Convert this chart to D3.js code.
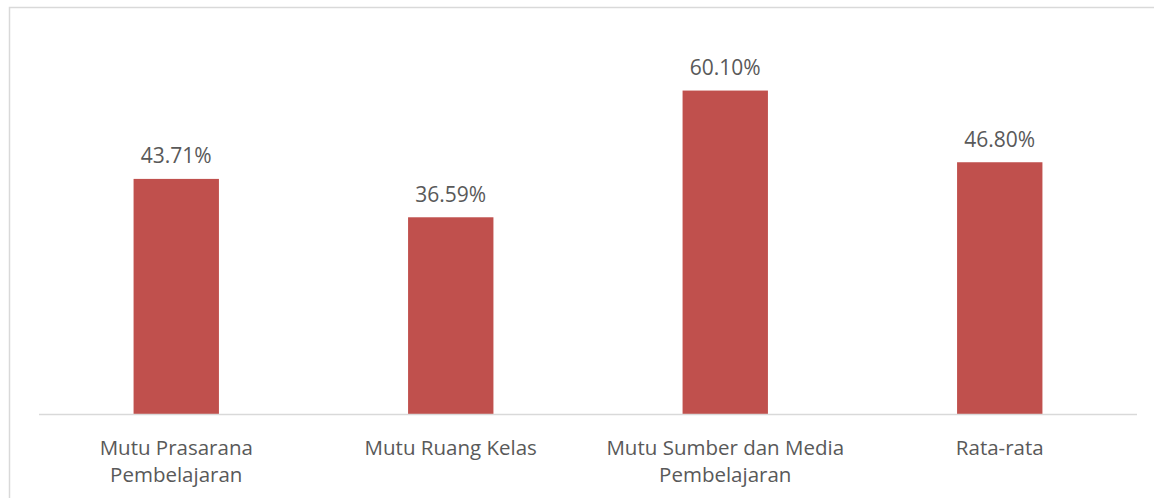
<!DOCTYPE html>
<html>
<head>
<meta charset="utf-8">
<script src="https://cdn.jsdelivr.net/npm/d3@7"></script>
<style>
  body { margin: 0; background: #fff; }
  svg { display: block; }
  text { font-family: "Open Sans", "Noto Sans", sans-serif; fill: #595959; }
</style>
</head>
<body>
<div id="chart"></div>
<script>
// data
const categories = [["Mutu Prasarana", "Pembelajaran"], ["Mutu Ruang Kelas"], ["Mutu Sumber dan Media", "Pembelajaran"], ["Rata-rata"]];
const values = [43.71, 36.59, 60.10, 46.80];

const W = 1154, H = 498;
const svg = d3.select("#chart").append("svg")
    .attr("width", W)
    .attr("height", H);

// outer frame (cut off at right and bottom)
svg.append("rect")
    .attr("x", 9.5).attr("y", 7.5)
    .attr("width", W + 20).attr("height", H + 20)
    .attr("fill", "none")
    .attr("stroke", "#d9d9d9")
    .attr("stroke-width", 1.5);

const baseY = 414.5;
const x = d3.scaleBand()
    .domain(d3.range(values.length))
    .range([39, 1137])
    .paddingInner(0.689)
    .paddingOuter(0.3445);

const y = d3.scaleLinear()
    .domain([0, 70])
    .range([baseY, baseY - 70 * 5.39]);

// bars
svg.append("g").selectAll("rect")
    .data(values)
    .enter().append("rect")
    .attr("x", (d, i) => x(i))
    .attr("y", d => y(d))
    .attr("width", x.bandwidth())
    .attr("height", d => baseY - y(d))
    .attr("fill", "#c0504d");

// baseline
svg.append("line")
    .attr("x1", 39).attr("x2", 1137)
    .attr("y1", baseY).attr("y2", baseY)
    .attr("stroke", "#d9d9d9")
    .attr("stroke-width", 1.5);

// value labels
svg.append("g").selectAll("text")
    .data(values)
    .enter().append("text")
    .attr("x", (d, i) => x(i) + x.bandwidth() / 2)
    .attr("y", d => y(d) - 15.5)
    .attr("text-anchor", "middle")
    .style("font-size", "21px")
    .text(d => d.toFixed(2) + "%");

// category labels
const cat = svg.append("g").selectAll("text")
    .data(categories)
    .enter().append("text")
    .attr("x", (d, i) => x(i) + x.bandwidth() / 2)
    .attr("y", 455)
    .attr("text-anchor", "middle")
    .style("font-size", "20.5px");

cat.selectAll("tspan")
    .data(d => d)
    .enter().append("tspan")
    .attr("x", function() { return this.parentNode.getAttribute("x"); })
    .attr("dy", (d, i) => i === 0 ? 0 : 27)
    .text(d => d);
</script>
</body>
</html>
